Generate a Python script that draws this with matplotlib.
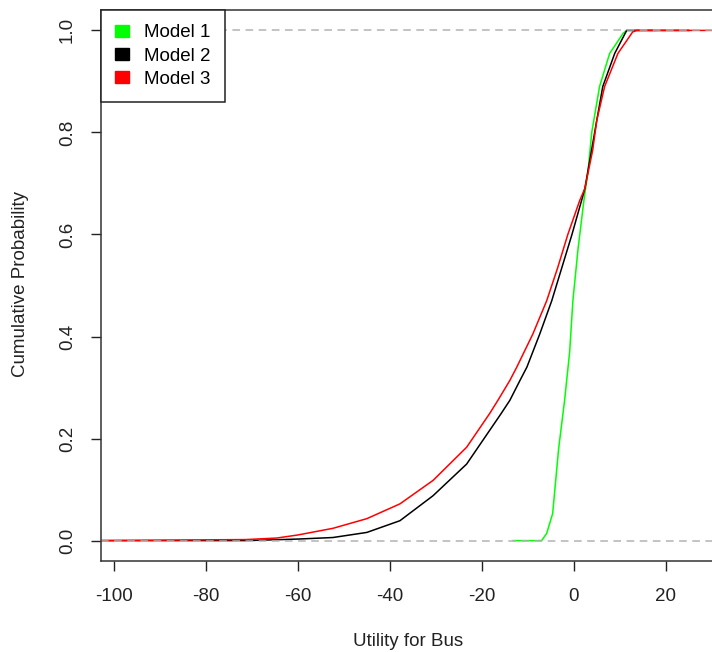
import matplotlib
matplotlib.use("Agg")
import matplotlib.pyplot as plt
from matplotlib.patches import Patch

plt.rcParams['font.family'] = ['Liberation Sans', 'DejaVu Sans']

# values (x = utility, y = cumulative probability)
m1_x = [-13.2, -7.0, -5.9, -4.6, -3.3, -2.0, -0.9, -0.2, 0.9, 2.2, 3.1, 3.9, 5.6, 7.8, 10.7, 11.5, 17.8]
m1_y = [0.0, 0.0, 0.014, 0.053, 0.18, 0.275, 0.37, 0.47, 0.57, 0.667, 0.725, 0.80, 0.89, 0.955, 0.994, 1.0, 1.0]

m2_x = [-103, -71.0, -60.0, -52.4, -45.0, -37.8, -30.6, -23.3, -15.8, -13.9, -11.7, -10.2, -7.4, -4.8, -2.6, -0.4, 1.7, 2.4, 5.0, 6.3, 8.9, 11.5, 25.0]
m2_y = [0.0, 0.0, 0.003, 0.006, 0.016, 0.039, 0.088, 0.15, 0.249, 0.275, 0.314, 0.34, 0.405, 0.47, 0.535, 0.60, 0.667, 0.69, 0.824, 0.89, 0.955, 1.0, 1.0]

m3_x = [-103, -71.3, -64.6, -60.0, -52.4, -45.0, -37.8, -30.6, -23.3, -18.3, -16.5, -13.9, -12.4, -8.9, -5.9, -3.5, -1.3, 1.3, 2.4, 4.1, 5.0, 6.7, 9.6, 12.8, 13.7, 31.0]
m3_y = [0.0, 0.002, 0.005, 0.011, 0.024, 0.043, 0.072, 0.118, 0.183, 0.249, 0.275, 0.314, 0.34, 0.405, 0.47, 0.535, 0.60, 0.667, 0.69, 0.765, 0.824, 0.89, 0.955, 0.997, 1.0, 1.0]

labels = ['Model 1', 'Model 2', 'Model 3']
colors = ['#00ff00', '#000000', '#ff0000']
xticks = [-100, -80, -60, -40, -20, 0, 20]
yticks = [0.0, 0.2, 0.4, 0.6, 0.8, 1.0]
fs = 13.5

fig = plt.figure(figsize=(7.12, 6.52), dpi=100)
ax = fig.add_axes([101/712, 91/652, 614/712, 551/652])

ax.plot(m1_x, m1_y, color=colors[0], lw=1.1)
ax.plot(m2_x, m2_y, color=colors[1], lw=1.1)
ax.plot(m3_x, m3_y, color=colors[2], lw=1.1)
for h in [0, 1]:
    ax.axhline(h, color='#b3b3b3', lw=1.1, dashes=(5, 3.6))

ax.set_xlim(-102.8, 30.7)
ax.set_ylim(-0.04, 1.04)
ax.set_xticks(xticks)
ax.set_yticks(yticks)
ax.set_xticklabels([str(v) for v in xticks])
ax.set_yticklabels(['%.1f' % v for v in yticks], rotation=90, va='center')
ax.tick_params(axis='both', direction='out', length=7.5, width=1, labelsize=fs, colors='#222222')
ax.tick_params(axis='x', pad=12)
ax.tick_params(axis='y', pad=10.5)
for s in ax.spines.values():
    s.set_linewidth(1.1)
    s.set_color('#333333')

fig.text(408/712, 1 - 641/652, 'Utility for Bus', ha='center', va='center', fontsize=fs, color='#222222')
fig.text(21/712, 1 - 284/652, 'Cumulative Probability', ha='center', va='center', rotation=90, fontsize=fs, color='#222222')

handles = [Patch(facecolor=c, edgecolor=c) for c in colors]
leg = ax.legend(handles, labels, loc='upper left', borderaxespad=0, fancybox=False,
                framealpha=1, edgecolor='#222222', fontsize=fs, handlelength=0.75,
                handleheight=0.6, handletextpad=0.8, labelspacing=0.34, borderpad=0.76)
leg.get_frame().set_linewidth(1.1)

fig.savefig('out.png', dpi=100)
